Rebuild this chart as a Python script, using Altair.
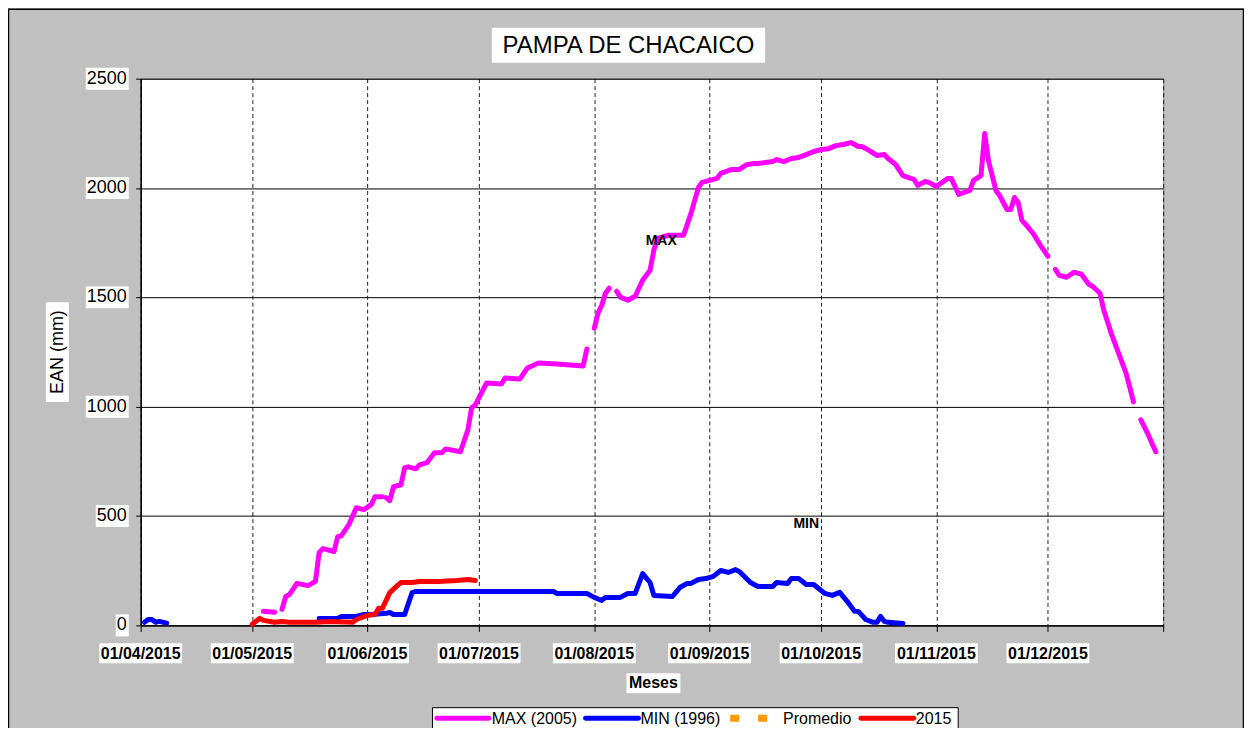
import altair as alt
import pandas as pd

FONT = "Liberation Sans"
TITLE = "PAMPA DE CHACAICO"
Y_TITLE = "EAN (mm)"
X_TITLE = "Meses"

month_starts = ["2015-04-01", "2015-05-01", "2015-06-01", "2015-07-01", "2015-08-01",
                "2015-09-01", "2015-10-01", "2015-11-01", "2015-12-01"]
month_labels = ["01/04/2015", "01/05/2015", "01/06/2015", "01/07/2015", "01/08/2015",
                "01/09/2015", "01/10/2015", "01/11/2015", "01/12/2015"]
y_ticks = [0, 500, 1000, 1500, 2000, 2500]

series_names = ["MAX (2005)", "MIN (1996)", "Promedio", "2015"]
series_colors = ["#FF00FF", "#0000FF", "#FF9900", "#FF0000"]

# None marks a gap in the series
max_dates = ["2015-05-04", "2015-05-07", None,
             "2015-05-09", "2015-05-10", "2015-05-11", "2015-05-13", "2015-05-16", "2015-05-18",
             "2015-05-19", "2015-05-20", "2015-05-23", "2015-05-24", "2015-05-25", "2015-05-27",
             "2015-05-29", "2015-05-31", "2015-06-02", "2015-06-03", "2015-06-05", None,
             "2015-06-06", "2015-06-07", "2015-06-08", "2015-06-10", "2015-06-11", "2015-06-12",
             "2015-06-14", "2015-06-15", "2015-06-17", "2015-06-19", "2015-06-21", "2015-06-22",
             "2015-06-26", "2015-06-28", "2015-06-29", "2015-06-30", "2015-07-03", "2015-07-07",
             "2015-07-08", "2015-07-12", "2015-07-14", "2015-07-17", "2015-07-22", "2015-07-29",
             "2015-07-30", None,
             "2015-08-01", "2015-08-02", "2015-08-03", "2015-08-04", "2015-08-05", None,
             "2015-08-07", "2015-08-08", "2015-08-10", "2015-08-12", "2015-08-14", "2015-08-16",
             "2015-08-17", "2015-08-18", "2015-08-21", "2015-08-25", "2015-08-27", "2015-08-29",
             "2015-08-30", "2015-09-03", "2015-09-04", "2015-09-07", "2015-09-09", "2015-09-11",
             "2015-09-13", "2015-09-14", "2015-09-16", "2015-09-18", "2015-09-19", "2015-09-21",
             "2015-09-23", "2015-09-25", "2015-09-27", "2015-09-29", "2015-10-01", "2015-10-03",
             "2015-10-05", "2015-10-07", "2015-10-09", "2015-10-11", "2015-10-12", "2015-10-14",
             "2015-10-16", "2015-10-18", "2015-10-19", "2015-10-21", "2015-10-23", "2015-10-26",
             "2015-10-27", "2015-10-29", "2015-10-30", "2015-11-01", "2015-11-04", "2015-11-05",
             "2015-11-07", "2015-11-10", "2015-11-11", "2015-11-13", "2015-11-14", "2015-11-15",
             "2015-11-17", "2015-11-18", "2015-11-20", "2015-11-21", "2015-11-22", "2015-11-23",
             "2015-11-24", "2015-11-25", "2015-11-27", "2015-11-29", "2015-12-01", None,
             "2015-12-03", "2015-12-04", "2015-12-06", "2015-12-08", "2015-12-10", "2015-12-12",
             "2015-12-13", "2015-12-15", "2015-12-16", "2015-12-18", "2015-12-20", "2015-12-22",
             "2015-12-23", "2015-12-24", None,
             "2015-12-26", "2015-12-28", "2015-12-30"]
max_vals = [65, 60, None,
            73, 132, 141, 192, 182, 201,
            333, 351, 338, 406, 410, 461,
            538, 529, 552, 588, 588, None,
            584, 570, 634, 643, 721, 725,
            716, 734, 744, 789, 789, 807,
            794, 894, 995, 1008, 1108, 1104,
            1131, 1127, 1177, 1200, 1195, 1186,
            1264, None,
            1359, 1428, 1464, 1519, 1542, None,
            1528, 1501, 1487, 1505, 1578, 1624,
            1715, 1770, 1784, 1784, 1884, 2003,
            2026, 2044, 2067, 2085, 2085, 2107,
            2112, 2112, 2117, 2121, 2130, 2121,
            2135, 2140, 2153, 2167, 2176, 2180,
            2194, 2199, 2208, 2190, 2190, 2171,
            2149, 2153, 2135, 2108, 2057, 2039,
            2012, 2030, 2026, 2007, 2044, 2044,
            1971, 1989, 2035, 2057, 2249, 2126,
            1989, 1966, 1902, 1902, 1957, 1934,
            1852, 1834, 1793, 1738, 1688, None,
            1628, 1601, 1592, 1615, 1606, 1560,
            1551, 1519, 1442, 1337, 1245, 1154,
            1090, 1022, None,
            940, 871, 794]

min_dates = ["2015-04-02", "2015-04-03", "2015-04-04", "2015-04-05", "2015-04-06", "2015-04-08", None,
             "2015-05-19", "2015-05-24", "2015-05-25", "2015-05-29", "2015-05-31", "2015-06-02",
             "2015-06-06", "2015-06-07", "2015-06-08", "2015-06-11", "2015-06-12", "2015-06-13",
             "2015-06-14", "2015-07-21", "2015-07-22", "2015-07-30", "2015-08-01", "2015-08-03",
             "2015-08-04", "2015-08-08", "2015-08-10", "2015-08-12", "2015-08-14", "2015-08-16",
             "2015-08-17", "2015-08-22", "2015-08-24", "2015-08-26", "2015-08-27", "2015-08-29",
             "2015-08-31", "2015-09-02", "2015-09-04", "2015-09-06", "2015-09-08", "2015-09-09",
             "2015-09-12", "2015-09-14", "2015-09-18", "2015-09-19", "2015-09-22", "2015-09-23",
             "2015-09-25", "2015-09-27", "2015-09-29", "2015-09-30", "2015-10-02", "2015-10-04",
             "2015-10-06", "2015-10-08", "2015-10-10", "2015-10-11", "2015-10-13", "2015-10-15",
             "2015-10-16", "2015-10-17", "2015-10-18", "2015-10-19", "2015-10-23"]
min_vals = [14, 27, 27, 14, 18, 10, None,
            32, 32, 41, 41, 50, 50,
            55, 59, 50, 50, 100, 150,
            155, 155, 146, 146, 128, 114,
            128, 128, 146, 146, 237, 196,
            137, 132, 173, 192, 192, 210,
            214, 224, 251, 242, 255, 246,
            196, 178, 178, 196, 192, 214,
            214, 187, 187, 173, 146, 137,
            151, 110, 64, 64, 27, 14,
            14, 41, 18, 14, 9]

y2015_dates = ["2015-05-01", "2015-05-03", "2015-05-04", "2015-05-07", "2015-05-09", "2015-05-11",
               "2015-05-18", "2015-05-22", "2015-05-28", "2015-05-29", "2015-06-01", "2015-06-03",
               "2015-06-04", "2015-06-05", "2015-06-07", "2015-06-09", "2015-06-10", "2015-06-13",
               "2015-06-15", "2015-06-20", "2015-06-25", "2015-06-28", "2015-06-30"]
y2015_vals = [5, 32, 23, 14, 18, 14,
              14, 18, 14, 27, 46, 50,
              78, 78, 150, 182, 196, 196,
              201, 201, 205, 210, 205]

annot_labels = ["MAX", "MIN"]
annot_dates = ["2015-08-19", "2015-09-27"]
annot_vals = [1756, 465]


def build(name, dates, vals):
    rows, seg = [], 0
    for d, v in zip(dates, vals):
        if v is None:
            seg += 1
            continue
        rows.append({"series": name, "date": d + "T00:00:00", "value": v, "seg": seg})
    return pd.DataFrame(rows)


df_max = build(series_names[0], max_dates, max_vals)
df_min = build(series_names[1], min_dates, min_vals)
df_2015 = build(series_names[3], y2015_dates, y2015_vals)
df_ann = pd.DataFrame({"label": annot_labels,
                       "date": [d + "T00:00:00" for d in annot_dates],
                       "value": annot_vals})
df_xt = pd.DataFrame({"date": [d + "T00:00:00" for d in month_starts], "label": month_labels})
one = pd.DataFrame({"k": [0]})

W, H = 1025, 548

xscale = alt.Scale(domain=[alt.DateTime(year=2015, month=4, date=1),
                           alt.DateTime(year=2016, month=1, date=1)])
yscale = alt.Scale(domain=[0, 2500], nice=False, zero=False)
tick_dt = [alt.DateTime(year=2015, month=m, date=1) for m in range(4, 13)] + \
          [alt.DateTime(year=2016, month=1, date=1)]

xaxis = alt.Axis(values=tick_dt, labels=False, title=None, ticks=True, tickSize=6,
                 tickColor="#000", domainColor="#000", domainWidth=1.5, grid=True,
                 gridColor="#222", gridDash=[4, 3], gridWidth=1)
yaxis = alt.Axis(values=y_ticks, labels=False, title=None, ticks=True, tickSize=5,
                 tickColor="#000", domainColor="#000", domainWidth=1.5, grid=True,
                 gridColor="#000", gridWidth=1)

X = alt.X("date:T", scale=xscale, axis=xaxis)
Y = alt.Y("value:Q", scale=yscale, axis=yaxis)

layers = []

# outer chart border
layers.append(alt.Chart(one).mark_rect(fillOpacity=0, stroke="#000", strokeWidth=1.5).encode(
    x=alt.value(-132.5), x2=alt.value(1105.5), y=alt.value(-69.5), y2=alt.value(700)))

# title
layers.append(alt.Chart(one).mark_rect(fill="white").encode(
    x=alt.value(352), x2=alt.value(626), y=alt.value(-51), y2=alt.value(-16)))
layers.append(alt.Chart(one).mark_text(text=TITLE, font=FONT, fontSize=24, align="center",
                                       baseline="middle", color="#000").encode(
    x=alt.value(489), y=alt.value(-33)))

# y title
layers.append(alt.Chart(one).mark_rect(fill="white").encode(
    x=alt.value(-95), x2=alt.value(-72), y=alt.value(224), y2=alt.value(324)))
layers.append(alt.Chart(one).mark_text(text=Y_TITLE, font=FONT, fontSize=18, angle=270,
                                       align="center", baseline="middle", color="#000").encode(
    x=alt.value(-83), y=alt.value(274)))

# x title
layers.append(alt.Chart(one).mark_rect(fill="white").encode(
    x=alt.value(487), x2=alt.value(541), y=alt.value(596), y2=alt.value(616)))
layers.append(alt.Chart(one).mark_text(text=X_TITLE, font=FONT, fontSize=16, fontWeight="bold",
                                       align="center", baseline="middle", color="#000").encode(
    x=alt.value(514), y=alt.value(606)))

# x tick labels with white boxes
box_path_x = "M-1,-0.241H1V0.241H-1Z"
layers.append(alt.Chart(df_xt).mark_point(shape=box_path_x, size=83 * 83, filled=True,
                                          fill="white", opacity=1, strokeWidth=0).encode(
    x=X, y=alt.value(576)))
layers.append(alt.Chart(df_xt).mark_text(font=FONT, fontSize=16, fontWeight="bold",
                                         align="center", baseline="middle", color="#000").encode(
    x=X, y=alt.value(577), text="label:N"))

# y tick labels with white boxes
for v in y_ticks:
    lab = str(v)
    w = 10 * len(lab) + 3
    h = 22
    ratio = h / w
    path = "M-1,-%.3fH1V%.3fH-1Z" % (ratio, ratio)
    dfv = pd.DataFrame({"value": [v], "label": [lab]})
    layers.append(alt.Chart(dfv).mark_point(shape=path, size=w * w, filled=True, fill="white",
                                            opacity=1, strokeWidth=0).encode(
        x=alt.value(-12 - w / 2), y=Y))
    layers.append(alt.Chart(dfv).mark_text(font=FONT, fontSize=18, align="right",
                                           baseline="middle", color="#000").encode(
        x=alt.value(-14), y=Y, text="label:N"))

# legend
LEG_Y = 641
layers.append(alt.Chart(one).mark_rect(fill="white", stroke="#000", strokeWidth=1).encode(
    x=alt.value(292.5), x2=alt.value(819.5), y=alt.value(630.5), y2=alt.value(700)))
leg_lines = [(297, 349), (446, 499), None, (722, 775)]
leg_text_x = [352, 501, 644, 777]
for i, name in enumerate(series_names):
    if leg_lines[i] is None:
        layers.append(alt.Chart(one).mark_rule(color=series_colors[i], strokeWidth=7,
                                               strokeDash=[9, 19], strokeCap="butt").encode(
            x=alt.value(591), x2=alt.value(629), y=alt.value(LEG_Y)))
    else:
        a, b = leg_lines[i]
        layers.append(alt.Chart(one).mark_rule(color=series_colors[i], strokeWidth=5,
                                               strokeCap="round").encode(
            x=alt.value(a), x2=alt.value(b), y=alt.value(LEG_Y)))
    layers.append(alt.Chart(one).mark_text(text=name, font=FONT, fontSize=16, align="left",
                                           baseline="middle", color="#000").encode(
        x=alt.value(leg_text_x[i]), y=alt.value(LEG_Y + 1)))

# data lines
for df, col in [(df_max, series_colors[0]), (df_min, series_colors[1]), (df_2015, series_colors[3])]:
    layers.append(alt.Chart(df).mark_line(color=col, strokeWidth=5, strokeCap="round",
                                          strokeJoin="round").encode(
        x=X, y=Y, detail="seg:N", order="date:T"))

# annotations
layers.append(alt.Chart(df_ann).mark_text(font=FONT, fontSize=14, fontWeight="bold",
                                          align="center", baseline="middle", color="#000").encode(
    x=X, y=Y, text="label:N"))

chart = alt.layer(*layers).properties(
    width=W, height=H,
    autosize=alt.AutoSizeParams(type="none"),
    padding={"left": 133, "top": 70, "right": 81, "bottom": 102},
).configure(background="#C0C0C0", font=FONT).configure_view(fill="white", stroke="#808080",
                                                            strokeWidth=1)

chart.save("out.html", embed_options={"renderer": "svg", "actions": False})
